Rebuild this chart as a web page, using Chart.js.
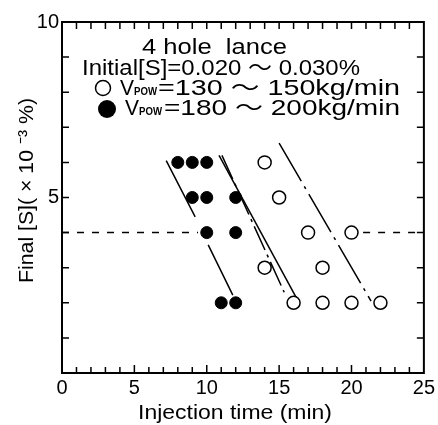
<!DOCTYPE html>
<html>
<head>
<meta charset="utf-8">
<script src="https://cdn.jsdelivr.net/npm/chart.js@4.4.0/dist/chart.umd.min.js"></script>
<style>
  body { margin: 0; background: #fff; }
  #wrap { width: 438px; height: 425px; }
</style>
</head>
<body>
<div id="wrap"><canvas id="sChart" width="438" height="425"></canvas></div>
<script>
// measured heats, final [S] in 10^-3 %
const fastX = [8, 9, 10, 9, 10, 12, 10, 12, 11, 12];      // Vpow 180~200 kg/min
const fastY = [6, 6, 6, 5, 5, 5, 4, 4, 2, 2];
const slowX = [14, 15, 17, 20, 14, 18, 16, 18, 20, 22];   // Vpow 130~150 kg/min
const slowY = [6, 5, 4, 4, 3, 3, 2, 2, 2, 2];

// hand drawn trend lines, end points (null = break)
const lineAX = [7.2, 9.2, 9.6, 10.1, 11.8];
const lineAY = [6.05, 4.45, null, 3.65, 2.22];
const lineBX = [10.85, 16.25];
const lineBY = [6.2, 2.1];
const lineCX = [11.05, 15.35];
const lineCY = [6.2, 2.3];
const lineDX = [15.0, 21.35];
const lineDY = [6.55, 2.05];
const targetX = [0, 9.4, 9.6, 20.8, 25];
const targetY = [4, 4, null, 4, 4];

const xTicks = [0, 5, 10, 15, 20, 25];
const yTicks = [5, 10];

const FONT = '"Liberation Sans", Arial, "Noto Sans CJK JP", sans-serif';

function pts(xs, ys) {
    return xs.map((x, i) => ({ x: x, y: ys[i] }));
}

function trend(xs, ys, dash) {
    return {
        data: pts(xs, ys),
        showLine: true,
        spanGaps: false,
        pointRadius: 0,
        borderColor: "#000",
        borderWidth: 1.5,
        borderDash: dash,
        order: 5
    };
}

// draw text squeezed/stretched to a given width
function fitText(ctx, txt, x, y, w) {
    let m = ctx.measureText(txt).width;
    ctx.save();
    ctx.translate(x, y);
    ctx.scale(w / m, 1);
    ctx.fillText(txt, 0, 0);
    ctx.restore();
}

const framePlugin = {
    id: "frame",
    afterDraw(chart) {
        let ctx = chart.ctx;
        let a = chart.chartArea;
        let xs = chart.scales.x;
        let ys = chart.scales.y;
        ctx.save();
        ctx.strokeStyle = "#000";
        ctx.fillStyle = "#000";

        // box
        ctx.lineWidth = 2;
        ctx.strokeRect(a.left, a.top, a.right - a.left, a.bottom - a.top);

        // inward ticks every 1 unit
        ctx.lineWidth = 1.5;
        ctx.beginPath();
        for (let v = 1; v < 25; v++) {
            let px = xs.getPixelForValue(v);
            let len = v % 5 === 0 ? 8 : 6;
            ctx.moveTo(px, a.bottom);
            ctx.lineTo(px, a.bottom - len);
            ctx.moveTo(px, a.top);
            ctx.lineTo(px, a.top + 7);
        }
        for (let v = 1; v < 10; v++) {
            let py = ys.getPixelForValue(v);
            ctx.moveTo(a.left, py);
            ctx.lineTo(a.left + 7, py);
            ctx.moveTo(a.right, py);
            ctx.lineTo(a.right - 7, py);
        }
        ctx.stroke();

        // note block inside the plot
        ctx.textBaseline = "alphabetic";
        ctx.font = "22px " + FONT;
        fitText(ctx, "4 hole  lance", 142, 54, 145);
        fitText(ctx, "Initial[S]=0.020 \uFF5E 0.030%", 82, 75, 278);

        ctx.lineWidth = 1.5;
        ctx.beginPath();
        ctx.arc(103, 88, 7.5, 0, Math.PI * 2);
        ctx.stroke();
        fitText(ctx, "V", 120, 95, 14);
        ctx.font = "bold 11px " + FONT;
        fitText(ctx, "POW", 134, 95, 23);
        ctx.font = "22px " + FONT;
        fitText(ctx, "=130 \uFF5E 150kg/min", 158, 95, 242);

        ctx.beginPath();
        ctx.arc(107, 109, 9, 0, Math.PI * 2);
        ctx.fill();
        fitText(ctx, "V", 125, 115, 14);
        ctx.font = "bold 11px " + FONT;
        fitText(ctx, "POW", 139, 115, 23);
        ctx.font = "22px " + FONT;
        fitText(ctx, "=180 \uFF5E 200kg/min", 164, 115, 236);

        // axis titles
        ctx.font = "21px " + FONT;
        fitText(ctx, "Injection time (min)", 138, 419, 194);
        ctx.save();
        ctx.translate(33, 283);
        ctx.rotate(-Math.PI / 2);
        fitText(ctx, "Final [S]( \u00D7 10 \u207B\u00B3 %)", 0, 0, 185);
        ctx.restore();

        ctx.restore();
    }
};

let ctx = document.getElementById("sChart").getContext("2d");
new Chart(ctx, {
    type: "scatter",
    data: {
        datasets: [
            {
                data: pts(fastX, fastY),
                pointRadius: 6,
                backgroundColor: "#000",
                borderColor: "#000",
                borderWidth: 1,
                order: 1
            },
            {
                data: pts(slowX, slowY),
                pointRadius: 6.5,
                backgroundColor: "#fff",
                borderColor: "#000",
                borderWidth: 1.5,
                order: 1
            },
            trend(lineAX, lineAY, []),
            trend(lineBX, lineBY, []),
            trend(lineCX, lineCY, [26, 5, 3, 5]),
            trend(lineDX, lineDY, [44, 6, 3, 6]),
            trend(targetX, targetY, [7, 8])
        ]
    },
    options: {
        responsive: false,
        animation: false,
        events: [],
        layout: { padding: { top: 22, right: 10, left: 0, bottom: 0 } },
        plugins: {
            legend: { display: false },
            tooltip: { enabled: false }
        },
        scales: {
            x: {
                type: "linear",
                min: 0,
                max: 25,
                afterFit: s => { s.height = 52; },
                afterBuildTicks: s => { s.ticks = xTicks.map(v => ({ value: v })); },
                ticks: { color: "#000", font: { family: FONT, size: 20 }, padding: 3, maxRotation: 0 },
                grid: { display: false, drawTicks: false },
                border: { display: false }
            },
            y: {
                min: 0,
                max: 10,
                afterFit: s => { s.width = 62; },
                afterBuildTicks: s => { s.ticks = yTicks.map(v => ({ value: v })); },
                ticks: { color: "#000", font: { family: FONT, size: 20 }, padding: 3 },
                grid: { display: false, drawTicks: false },
                border: { display: false }
            }
        }
    },
    plugins: [framePlugin]
});
</script>
</body>
</html>
